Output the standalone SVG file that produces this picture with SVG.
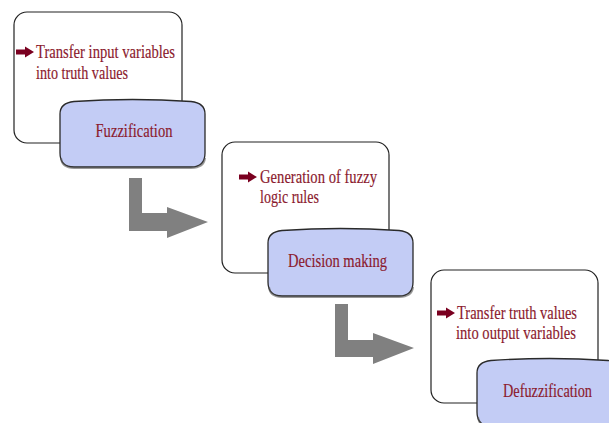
<svg xmlns="http://www.w3.org/2000/svg" width="609" height="423" viewBox="0 0 609 423">
<style>
.card{fill:#ffffff;stroke:#222;stroke-width:1.2}
.blue{fill:#c3ccf5;stroke:#2a2a2a;stroke-width:1.3}
.shadow{fill:none;stroke:#555;stroke-width:2;opacity:0.6}
.t{font-family:'Liberation Serif','Times New Roman',serif;font-size:18px;fill:#8b1a2e;stroke:#8b1a2e;stroke-width:0.15}
.flow{fill:#808080}
.bul{fill:#7a0020}
</style>
<defs>
<path id="bl" d="M0,14 Q0,3 14,1.5 Q72.5,-2.5 131,1.5 Q145,3 145,14 L145,53 Q145,67 131,67 L14,67 Q0,67 0,53 Z"/>
<path id="bs" d="M1,58 Q2,68 14,68 L131,68 Q144,68 145,58"/>
<path id="arr" d="M0,-2.5 L9,-2.5 L9,-5.5 L18,0 L9,5.5 L9,2.5 L0,2.5 Z"/>
</defs>
<rect width="609" height="423" fill="#ffffff"/>
<g id="connectors">
<path class="flow" d="M129,178 L142,178 L142,213 L167,213 L167,207 L208,222 L167,238 L167,231 L129,231 Z"/>
<path class="flow" d="M335,304 L348,304 L348,340 L373,340 L373,333 L414,348 L373,364 L373,357 L335,357 Z"/>
</g>
<g id="fuzzification">
<rect class="card" x="14" y="12" width="168" height="131" rx="13"/>
<use href="#arr" class="bul" x="16" y="52"/>
<text class="t" x="36" y="58" textLength="139" lengthAdjust="spacingAndGlyphs">Transfer input variables</text>
<text class="t" x="36" y="79" textLength="92" lengthAdjust="spacingAndGlyphs">into truth values</text>
<g transform="translate(60,100)">
<use href="#bl" class="blue"/>
<use href="#bs" class="shadow"/>
<text class="t" x="74" y="37" text-anchor="middle" textLength="77" lengthAdjust="spacingAndGlyphs">Fuzzification</text>
</g>
</g>
<g id="decision">
<rect class="card" x="222" y="142" width="167" height="131" rx="13"/>
<use href="#arr" class="bul" x="239" y="177"/>
<text class="t" x="260" y="183" textLength="117" lengthAdjust="spacingAndGlyphs">Generation of fuzzy</text>
<text class="t" x="260" y="203" textLength="59" lengthAdjust="spacingAndGlyphs">logic rules</text>
<g transform="translate(268,229)">
<use href="#bl" class="blue"/>
<use href="#bs" class="shadow"/>
<text class="t" x="69.5" y="38" text-anchor="middle" textLength="99" lengthAdjust="spacingAndGlyphs">Decision making</text>
</g>
</g>
<g id="defuzzification">
<rect class="card" x="431" y="270" width="167" height="133" rx="13"/>
<use href="#arr" class="bul" x="437" y="313"/>
<text class="t" x="457" y="319" textLength="120" lengthAdjust="spacingAndGlyphs">Transfer truth values</text>
<text class="t" x="456" y="339" textLength="120" lengthAdjust="spacingAndGlyphs">into output variables</text>
<g transform="translate(477,359)">
<use href="#bl" class="blue"/>
<use href="#bs" class="shadow"/>
<text class="t" x="70.5" y="38" text-anchor="middle" textLength="89" lengthAdjust="spacingAndGlyphs">Defuzzification</text>
</g>
</g>
</svg>
